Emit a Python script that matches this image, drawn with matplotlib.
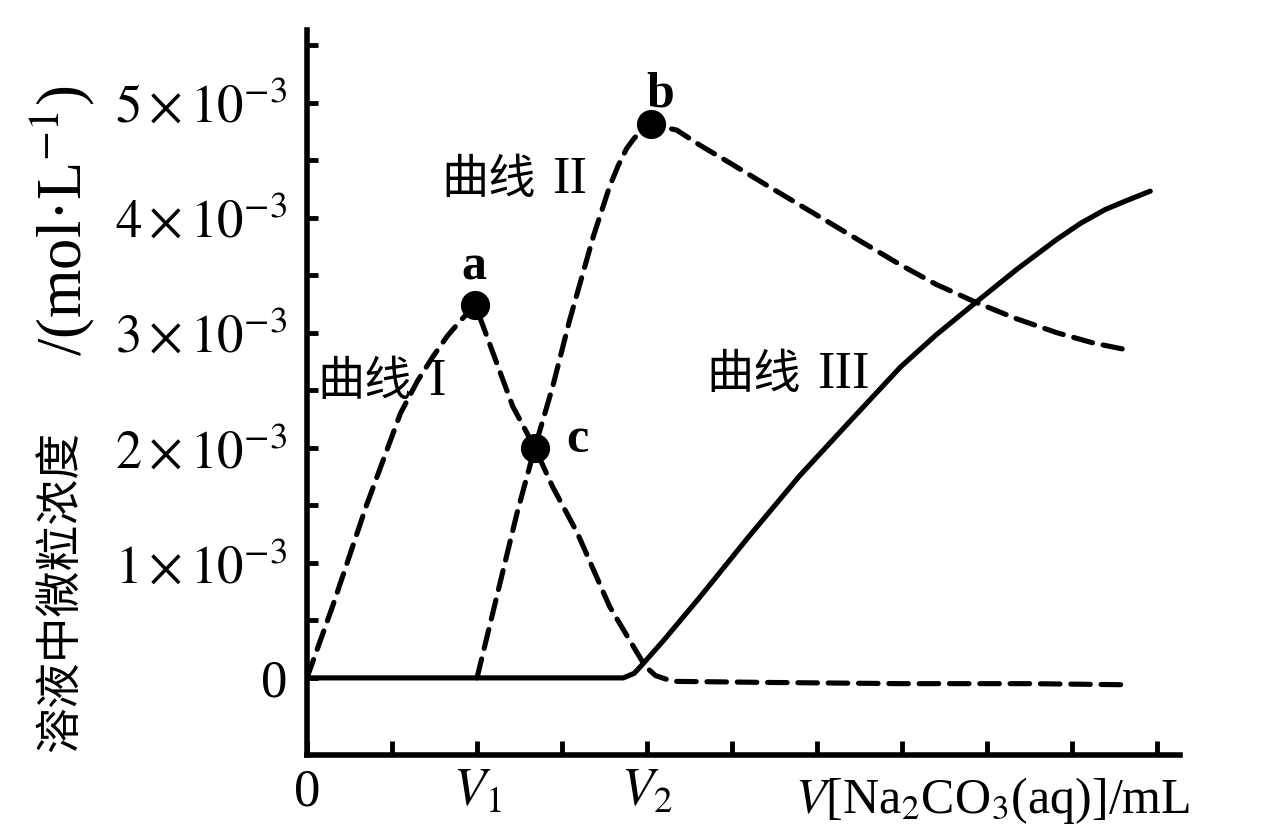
import matplotlib
matplotlib.use("Agg")
import matplotlib.pyplot as plt
from matplotlib.ticker import FixedLocator

plt.rcParams['mathtext.fontset'] = 'stix'
plt.rcParams['font.family'] = ['Liberation Serif', 'Noto Sans CJK SC', 'DejaVu Sans']

# ---- data (y in units of 1e-3 mol/L, x in tick units) ----
curve1_x = [0, 0.3, 0.7, 1.1, 1.3, 1.48, 1.65, 1.8, 1.98, 2.42, 2.68, 2.89, 3.18, 3.56, 3.85, 3.98, 4.1, 4.3, 5.5, 7.0, 8.5, 9.68]
curve1_y = [0, 0.62, 1.5, 2.3, 2.58, 2.79, 2.97, 3.1, 3.24, 2.36, 2.0, 1.66, 1.26, 0.62, 0.26, 0.1, 0.02, -0.03, -0.04, -0.05, -0.05, -0.06]

curve2_x = [2.0, 2.23, 2.47, 2.68, 2.89, 3.09, 3.37, 3.56, 3.66, 3.76, 3.85, 3.92, 4.05, 4.35, 4.62, 4.94, 5.5, 6.0, 6.5, 6.98, 7.4, 7.88, 8.35, 8.82, 9.25, 9.65]
curve2_y = [0, 0.70, 1.43, 2.0, 2.53, 3.11, 3.84, 4.27, 4.45, 4.6, 4.69, 4.74, 4.81, 4.76, 4.63, 4.49, 4.24, 4.02, 3.80, 3.59, 3.42, 3.26, 3.12, 3.0, 2.91, 2.85]

curve3_x = [0, 3.72, 3.85, 3.95, 4.2, 4.62, 5.2, 5.8, 6.4, 6.98, 7.4, 7.88, 8.35, 8.82, 9.1, 9.39, 9.65, 9.92]
curve3_y = [0, 0, 0.04, 0.12, 0.33, 0.70, 1.23, 1.76, 2.24, 2.70, 2.98, 3.27, 3.55, 3.81, 3.95, 4.07, 4.15, 4.23]

point_labels = ['a', 'b', 'c']
point_x = [1.98, 4.05, 2.68]
point_y = [3.24, 4.81, 2.0]

y_major = [0, 1, 2, 3, 4, 5]
y_major_labels = ['0', r'$1\times10^{-3}$', r'$2\times10^{-3}$', r'$3\times10^{-3}$',
                  r'$4\times10^{-3}$', r'$5\times10^{-3}$']
y_minor = [0.5, 1.5, 2.5, 3.5, 4.5, 5.5]
x_ticks = [0, 1, 2, 3, 4, 5, 6, 7, 8, 9, 10]
x_tick_labels = ['0', '', r'$V_1$', '', r'$V_2$', '', '', '', '', '', '']

curve_cjk = '曲线'
curve_numerals = ['I', 'II', 'III']
ylabel_cjk = '溶液中微粒浓度'
ylabel_unit = '/(mol·L$^{-1}$)'
xlabel_text = r'$V$[Na$_2$CO$_3$(aq)]/mL'

# ---- figure ----
W, H = 1265, 835
fig = plt.figure(figsize=(W / 100, H / 100), dpi=100)
ax = fig.add_axes([307 / W, 80 / H, (1180 - 307) / W, (755 - 30) / H])
ax.set_xlim(0, 10.27)
ax.set_ylim(-0.67, 5.63)

dash = (0, (3.8, 2.1))
lw = 3.7
ax.plot(curve1_x, curve1_y, color='black', lw=lw, linestyle=dash, dash_capstyle='round', dash_joinstyle='round')
ax.plot(curve2_x, curve2_y, color='black', lw=lw, linestyle=dash, dash_capstyle='round', dash_joinstyle='round')
ax.plot(curve3_x, curve3_y, color='black', lw=lw, linestyle='-', solid_capstyle='round', solid_joinstyle='round')
ax.plot(point_x, point_y, 'o', color='black', markersize=20, zorder=5)

for s in ['top', 'right']:
    ax.spines[s].set_visible(False)
for s in ['left', 'bottom']:
    ax.spines[s].set_linewidth(4)

ax.yaxis.set_major_locator(FixedLocator(y_major))
ax.set_yticklabels(y_major_labels)
ax.yaxis.set_minor_locator(FixedLocator(y_minor))
ax.xaxis.set_major_locator(FixedLocator(x_ticks))
ax.set_xticklabels(x_tick_labels)

ax.tick_params(axis='y', which='both', direction='in', length=8, width=3.5, labelsize=38, pad=14)
ax.tick_params(axis='x', which='major', direction='in', length=10, width=3.5, labelsize=38, pad=10)

# curve names: CJK part + serif roman numeral
fs_cjk = 34
name_pos = [(0.12, 2.57), (1.58, 4.33), (4.7, 2.63)]
fig.canvas.draw()
renderer = fig.canvas.get_renderer()
for (nx, ny), num in zip(name_pos, curve_numerals):
    t = ax.text(nx, ny, curve_cjk, fontsize=fs_cjk, ha='left', va='center',
                family=['Noto Sans CJK SC'])
    bb = t.get_window_extent(renderer)
    x_end = ax.transData.inverted().transform((bb.x1 + 16, 0))[0]
    ax.text(x_end, ny, num, fontsize=38, ha='left', va='center',
            family=['Liberation Serif'])

label_offsets = {'a': (-0.02, 0.33), 'b': (0.1, 0.26), 'c': (0.5, 0.07)}
for lab, px, py in zip(point_labels, point_x, point_y):
    dx, dy = label_offsets[lab]
    ax.text(px + dx, py + dy, lab, fontsize=36, ha='center', va='center', fontweight='bold')

fig.text(795 / W, 1 - 800 / H, xlabel_text, fontsize=36, ha='left', va='center')

# y label: CJK part (from bottom) and unit part (ending near top), rotated
fig.text(60 / W, 1 - 752 / H, ylabel_cjk, fontsize=33, rotation=90,
         rotation_mode='anchor', ha='left', va='center', family=['Noto Sans CJK SC'])
fig.text(62 / W, 1 - 86 / H, ylabel_unit, fontsize=45, rotation=90,
         rotation_mode='anchor', ha='right', va='center', family=['Liberation Serif'])

fig.savefig('out.png', dpi=100)
